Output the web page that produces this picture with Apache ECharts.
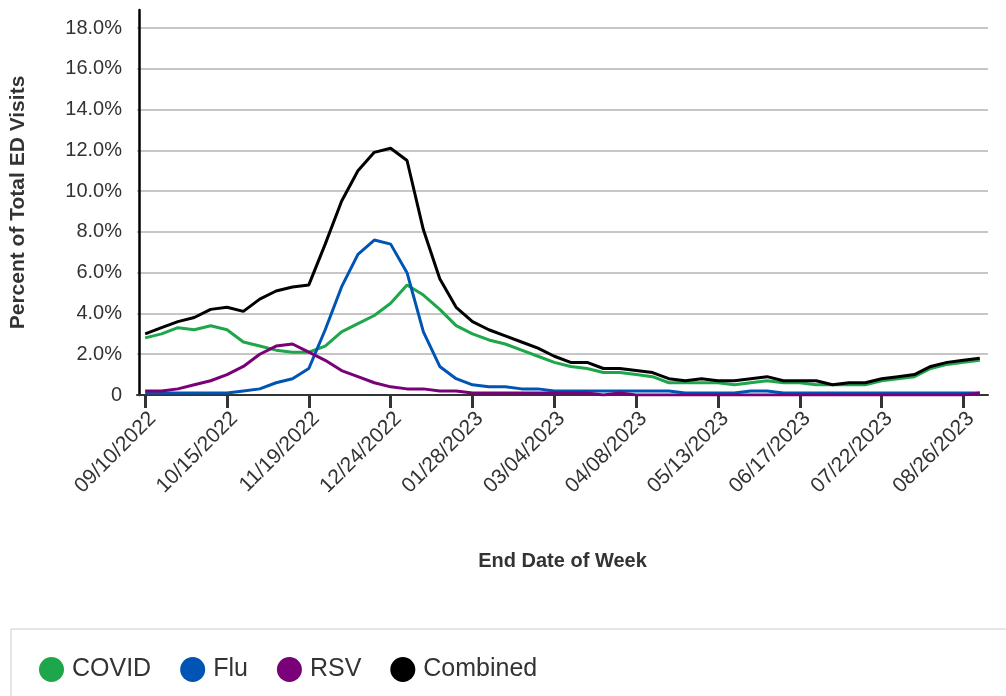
<!DOCTYPE html>
<html><head><meta charset="utf-8">
<script src="https://cdn.jsdelivr.net/npm/echarts@6/dist/echarts.min.js"></script>
<style>html,body{margin:0;padding:0;background:#fff}#c{width:1006px;height:696px}</style>
</head><body><div id="c"></div>
<script>
const weeks = ["09/10/2022","09/17/2022","09/24/2022","10/01/2022","10/08/2022","10/15/2022","10/22/2022","10/29/2022","11/05/2022","11/12/2022",
"11/19/2022","11/26/2022","12/03/2022","12/10/2022","12/17/2022","12/24/2022","12/31/2022","01/07/2023","01/14/2023","01/21/2023",
"01/28/2023","02/04/2023","02/11/2023","02/18/2023","02/25/2023","03/04/2023","03/11/2023","03/18/2023","03/25/2023","04/01/2023",
"04/08/2023","04/15/2023","04/22/2023","04/29/2023","05/06/2023","05/13/2023","05/20/2023","05/27/2023","06/03/2023","06/10/2023",
"06/17/2023","06/24/2023","07/01/2023","07/08/2023","07/15/2023","07/22/2023","07/29/2023","08/05/2023","08/12/2023","08/19/2023",
"08/26/2023","09/02/2023"];
const covid = [2.8,3.0,3.3,3.2,3.4,3.2,2.6,2.4,2.2,2.1, 2.1,2.4,3.1,3.5,3.9,4.5,5.4,4.9,4.2,3.4, 3.0,2.7,2.5,2.2,1.9,1.6,1.4,1.3,1.1,1.1, 1.0,0.9,0.6,0.6,0.6,0.6,0.5,0.6,0.7,0.6, 0.6,0.5,0.5,0.5,0.5,0.7,0.8,0.9,1.3,1.5, 1.6,1.7];
const flu = [0.1,0.1,0.1,0.1,0.1,0.1,0.2,0.3,0.6,0.8, 1.3,3.2,5.3,6.9,7.6,7.4,6.0,3.1,1.4,0.8, 0.5,0.4,0.4,0.3,0.3,0.2,0.2,0.2,0.2,0.2, 0.2,0.2,0.2,0.1,0.1,0.1,0.1,0.2,0.2,0.1, 0.1,0.1,0.1,0.1,0.1,0.1,0.1,0.1,0.1,0.1, 0.1,0.1];
const rsv = [0.2,0.2,0.3,0.5,0.7,1.0,1.4,2.0,2.4,2.5, 2.1,1.7,1.2,0.9,0.6,0.4,0.3,0.3,0.2,0.2, 0.1,0.1,0.1,0.1,0.1,0.1,0.1,0.1,0.0,0.1, 0.0,0.0,0.0,0.0,0.0,0.0,0.0,0.0,0.0,0.0, 0.0,0.0,0.0,0.0,0.0,0.0,0.0,0.0,0.0,0.0, 0.0,0.1];
const combined = [3.0,3.3,3.6,3.8,4.2,4.3,4.1,4.7,5.1,5.3, 5.4,7.4,9.5,11.0,11.9,12.1,11.5,8.1,5.7,4.3, 3.6,3.2,2.9,2.6,2.3,1.9,1.6,1.6,1.3,1.3, 1.2,1.1,0.8,0.7,0.8,0.7,0.7,0.8,0.9,0.7, 0.7,0.7,0.5,0.6,0.6,0.8,0.9,1.0,1.4,1.6, 1.7,1.8];
const seriesNames = ["COVID","Flu","RSV","Combined"];
const seriesColors = ["#1ea64b","#0054b4","#790078","#000000"];
const seriesData = [covid, flu, rsv, combined];

const FONT = '"Liberation Sans", Arial, Helvetica, sans-serif';
const chart = echarts.init(document.getElementById('c'), null, {renderer: 'canvas'});
chart.setOption({
  animation: false,
  backgroundColor: '#fff',
  textStyle: {fontFamily: FONT},
  grid: [
    {left: 137, right: 18, top: 28, bottom: 301},
    {left: 137, right: 18, top: 10, bottom: 301}
  ],
  legend: {
    left: 11, top: 629, width: 900,
    padding: [28, 700, 40, 28],
    borderColor: '#cccccc', borderWidth: 1,
    icon: 'circle', itemWidth: 25, itemHeight: 25, itemGap: 29,
    textStyle: {fontSize: 25, color: '#333', fontFamily: FONT, padding: [8, 0, 0, 3]},
    data: seriesNames
  },
  xAxis: [{
    type: 'category', gridIndex: 0, data: weeks, boundaryGap: true,
    name: 'End Date of Week', nameLocation: 'middle', nameGap: 156,
    nameTextStyle: {fontSize: 20, fontWeight: 'bold', color: '#333', fontFamily: FONT},
    axisLine: {show: true, lineStyle: {color: '#333', width: 2}},
    axisTick: {show: true, alignWithLabel: true, interval: 4, length: 13, lineStyle: {color: '#333', width: 3}},
    axisLabel: {interval: 4, rotate: 45, fontSize: 21, color: '#333', margin: 13, verticalAlign: 'top', fontFamily: FONT},
    splitLine: {show: false}
  }, {
    type: 'value', gridIndex: 1, show: false, min: 0, max: 1
  }],
  yAxis: [{
    type: 'value', gridIndex: 0, min: 0, max: 18, interval: 2,
    axisLine: {show: false}, axisTick: {show: false},
    axisLabel: {fontSize: 20, color: '#333', margin: 15, fontFamily: FONT,
      formatter: v => v === 0 ? '0' : v.toFixed(1) + '%'},
    splitLine: {show: true, lineStyle: {color: '#b3b3b3', width: 1.5}}
  }, {
    type: 'value', gridIndex: 1, min: 0, max: 1,
    name: 'Percent of Total ED Visits', nameLocation: 'middle', nameGap: 110,
    nameTextStyle: {fontSize: 21, fontWeight: 'bold', color: '#333', fontFamily: FONT},
    axisLine: {show: true, lineStyle: {color: '#000', width: 2.5}},
    axisTick: {show: false}, axisLabel: {show: false}, splitLine: {show: false}
  }],
  series: seriesNames.map((n, i) => ({
    name: n, type: 'line', xAxisIndex: 0, yAxisIndex: 0,
    data: seriesData[i], symbol: 'none', smooth: false,
    color: seriesColors[i],
    lineStyle: {width: 3, color: seriesColors[i]},
    itemStyle: {color: seriesColors[i]}
  }))
});
</script></body></html>
